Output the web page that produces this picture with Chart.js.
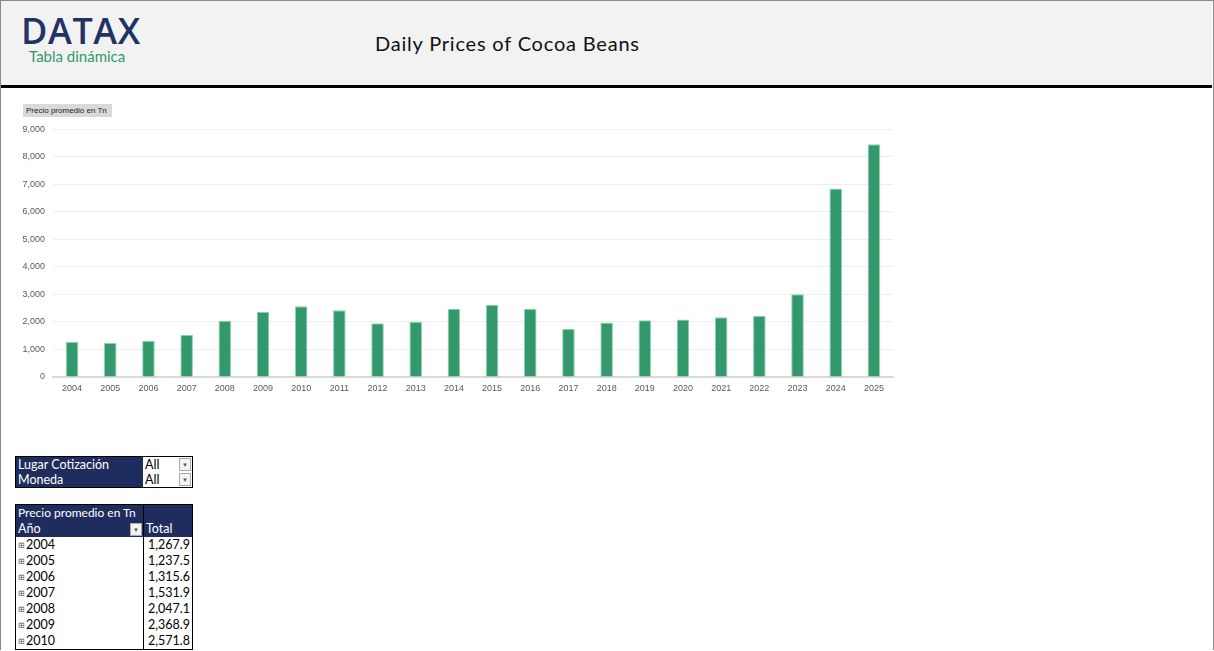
<!doctype html>
<html>
<head>
<meta charset="utf-8">
<title>Daily Prices of Cocoa Beans</title>
<script src="https://cdn.jsdelivr.net/npm/chart.js"></script>
<style>
    html, body { margin: 0; padding: 0; background: #fff; }
    body { width: 1214px; height: 651px; position: relative; overflow: hidden; font-family: Lato, "Open Sans", sans-serif; }
    .frame { position: absolute; left: 0; top: 0; width: 1212px; height: 649px; border: 1px solid #8a8a8a; border-bottom: none; }
    .header { position: absolute; left: 1px; top: 1px; width: 1211px; height: 84px; background: #f2f2f2; border-bottom: 3px solid #000; }
    .logo { position: absolute; left: 20px; top: 5px; font-family: "Open Sans", sans-serif; font-weight: 600; font-size: 36px; color: #1f3364; letter-spacing: 0.6px; }
    .sub { position: absolute; left: 28px; top: 46px; font-size: 15px; color: #2f9a6a; }
    .title { position: absolute; left: 374px; top: 30px; font-size: 20px; color: #111; letter-spacing: 0.8px; }
    .chartTag { position: absolute; left: 23px; top: 104px; width: 89px; height: 13px; background: #d9d9d9; font-family: "Liberation Sans", sans-serif; font-size: 8px; line-height: 13px; padding-left: 3px; color: #222; box-sizing: border-box; }
    .chartBox { position: absolute; left: 10px; top: 116px; width: 890px; height: 281px; }
    table { position: absolute; border-collapse: collapse; font-size: 12.5px; }
    td { padding: 0 2px; height: 16px; line-height: 16px; white-space: nowrap; }
    .nav { background: #1f2d5e; color: #fff; }
    .filters { left: 15px; top: 456px; border: 1px solid #000; }
    .filters td { height: 15px; line-height: 15px; }
    .filters td.v { background: #fff; color: #000; width: 45px; position: relative; }
    .dd { position: absolute; right: 1px; top: 1px; width: 10px; height: 11px; border: 1px solid #aaa; background: #f4f4f4; font-size: 6px; line-height: 11px; text-align: center; color: #555; }
    .pivot { left: 15px; top: 504px; border: 1px solid #000; }
    .pivot td.c1 { width: 123px; border-right: 1px solid #000; position: relative; overflow: hidden; }
    .pivot td.c2 { width: 44px; text-align: right; }
    .pivot .exp { display: inline-block; font-size: 8px; line-height: 8px; vertical-align: 1px; color: #555; margin-right: 1px; }
</style>
</head>
<body>
<div class="frame"></div>
<div class="header">
    <div class="logo">DATAX</div>
    <div class="sub">Tabla dinámica</div>
    <div class="title">Daily Prices of Cocoa Beans</div>
</div>

<div class="chartTag">Precio promedio en Tn</div>
<div class="chartBox"><canvas id="myChart"></canvas></div>

<table class="filters">
    <tr><td class="nav" style="width:123px">Lugar Cotización</td><td class="v">All<span class="dd">&#9660;</span></td></tr>
    <tr><td class="nav">Moneda</td><td class="v">All<span class="dd">&#9660;</span></td></tr>
</table>

<table class="pivot" id="pivot">
    <tr class="nav"><td class="c1" style="font-size:12px">Precio promedio en Tn</td><td class="c2"></td></tr>
    <tr class="nav"><td class="c1">Año<span class="dd" style="top:2px">&#9660;</span></td><td class="c2" style="text-align:left">Total</td></tr>
</table>

<script>
    // years on the x axis
    var years = ['2004', '2005', '2006', '2007', '2008', '2009', '2010', '2011', '2012', '2013', '2014',
        '2015', '2016', '2017', '2018', '2019', '2020', '2021', '2022', '2023', '2024', '2025'];

    // average price per tonne (first seven from the pivot table, rest)
    var avgPrice = [1267.9, 1237.5, 1315.6, 1531.9, 2047.1, 2368.9, 2571.8, 2428, 1957, 2007, 2478,
        2623, 2478, 1754, 1982, 2065, 2090, 2174, 2225, 3007, 6848, 8457];

    // rows visible in the pivot table
    var tableRows = 7;

    var pivot = document.getElementById('pivot');
    for (var i = 0; i < tableRows; i++) {
        var tr = document.createElement('tr');
        tr.innerHTML = '<td class="c1"><span class="exp">&#8862;</span>' + years[i] + '</td>' +
            '<td class="c2">' + avgPrice[i].toLocaleString('en-US', {minimumFractionDigits: 1, maximumFractionDigits: 1}) + '</td>';
        pivot.appendChild(tr);
    }

    var tickFont = {family: 'Liberation Sans', size: 9};

    new Chart(document.getElementById('myChart'), {
        type: 'bar',
        data: {
            labels: years,
            datasets: [{
                label: 'Precio promedio en Tn',
                data: avgPrice,
                backgroundColor: '#33996c',
                borderColor: '#8fd3b2',
                borderWidth: 1,
                barPercentage: 0.66,
                categoryPercentage: 0.5
            }]
        },
        options: {
            responsive: true,
            maintainAspectRatio: false,
            animation: false,
            layout: {padding: {top: 0, right: 7, left: 0, bottom: 0}},
            plugins: {
                legend: {display: false},
                tooltip: {enabled: false}
            },
            scales: {
                x: {
                    grid: {display: false, drawTicks: false},
                    border: {color: '#d9d9d9', width: 2},
                    ticks: {color: '#595959', font: tickFont, padding: 6, maxRotation: 0},
                    afterFit: function (scale) { scale.height = 20; }
                },
                y: {
                    min: 0,
                    max: 9000,
                    border: {display: false},
                    grid: {color: '#eeeeee', drawTicks: false},
                    ticks: {
                        stepSize: 1000,
                        color: '#595959',
                        font: tickFont,
                        padding: 8,
                        callback: function (v) { return v.toLocaleString('en-US'); }
                    },
                    afterFit: function (scale) { scale.width = 43; }
                }
            }
        }
    });
</script>
</body>
</html>
